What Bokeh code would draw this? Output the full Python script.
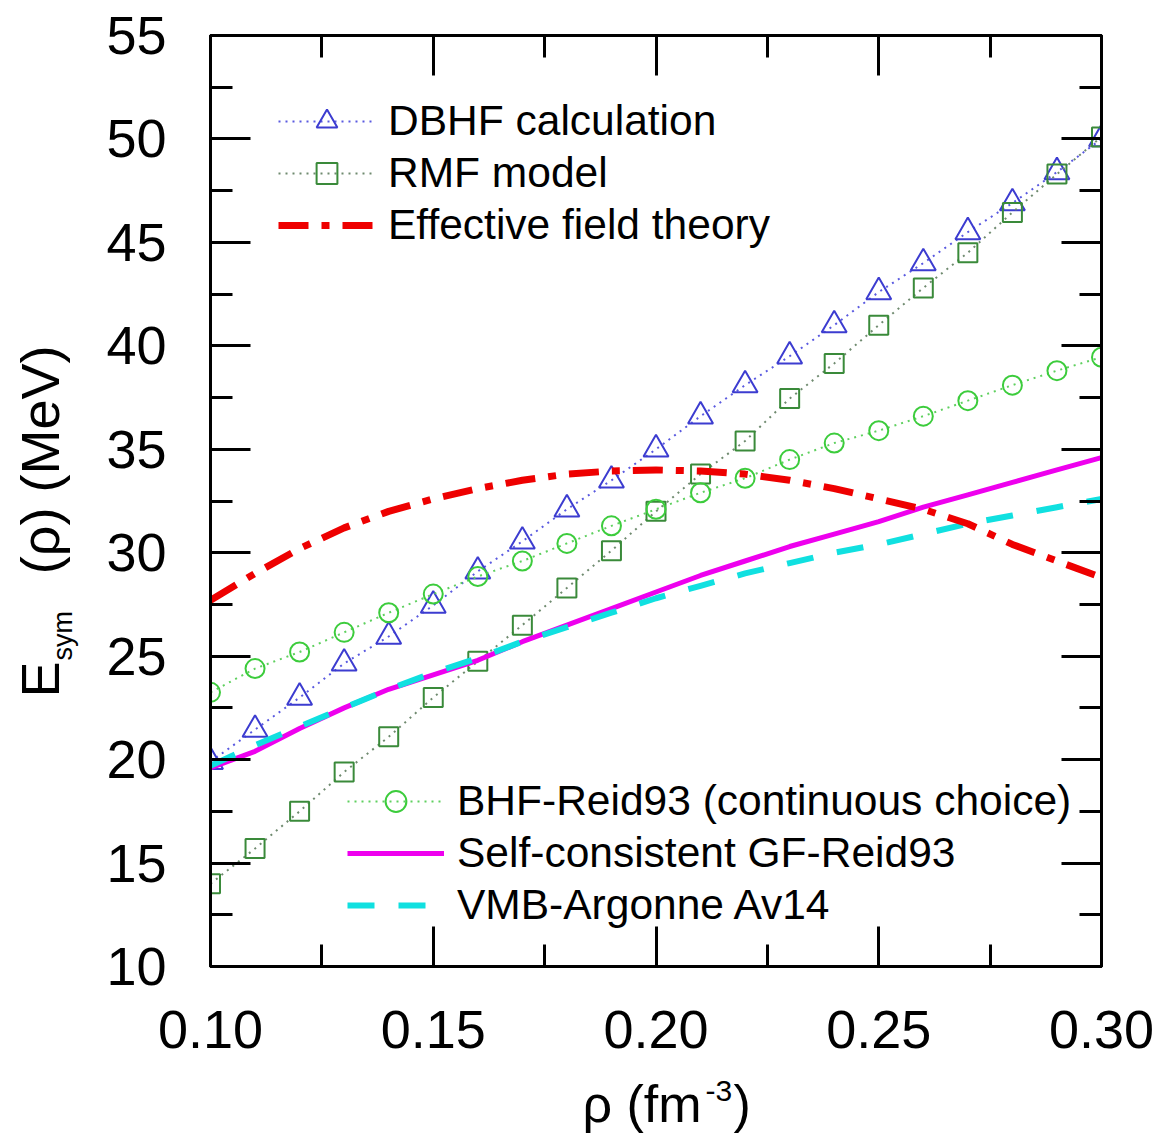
import math
from bokeh.plotting import figure
from bokeh.layouts import row, column
from bokeh.models import (Range1d, FixedTicker, LinearAxis, Legend,
                          LegendItem, NumeralTickFormatter)
from bokeh.core.properties import value
from bokeh.embed import file_html
from bokeh.resources import INLINE

# ---------------- data ----------------
rho = [0.10, 0.11, 0.12, 0.13, 0.14, 0.15, 0.16, 0.17, 0.18, 0.19, 0.20,
       0.21, 0.22, 0.23, 0.24, 0.25, 0.26, 0.27, 0.28, 0.29, 0.30]
dbhf = [19.9, 21.45, 23.0, 24.65, 25.95, 27.45, 29.1, 30.55, 32.1, 33.5, 35.0,
        36.6, 38.1, 39.5, 41.0, 42.6, 44.0, 45.5, 46.9, 48.4, 50.0]
rmf = [14.0, 15.7, 17.5, 19.4, 21.1, 23.0, 24.75, 26.5, 28.3, 30.1, 32.0,
       33.8, 35.4, 37.45, 39.15, 41.0, 42.8, 44.5, 46.45, 48.3, 50.1]
bhf = [23.25, 24.4, 25.2, 26.15, 27.1, 28.0, 28.85, 29.6, 30.45, 31.3, 32.1,
       32.9, 33.6, 34.5, 35.3, 35.9, 36.6, 37.35, 38.1, 38.8, 39.45]
eft = [27.7, 29.0, 30.2, 31.2, 32.0, 32.6, 33.1, 33.5, 33.8, 33.95, 34.0,
       33.95, 33.8, 33.5, 33.1, 32.6, 32.1, 31.4, 30.4, 29.6, 28.8]
gf = [19.6, 20.4, 21.5, 22.5, 23.4, 24.1, 24.8, 25.7, 26.5, 27.3, 28.1,
      28.9, 29.6, 30.3, 30.9, 31.5, 32.2, 32.8, 33.4, 34.0, 34.6]
vmb = [19.7, 20.7, 21.6, 22.5, 23.4, 24.2, 24.9, 25.7, 26.4, 27.1, 27.8,
       28.4, 29.0, 29.5, 30.0, 30.4, 30.9, 31.4, 31.8, 32.2, 32.6]

labels_top = ["DBHF calculation", "RMF model", "Effective field theory"]
labels_bot = ["BHF-Reid93 (continuous choice)", "Self-consistent GF-Reid93",
              "VMB-Argonne Av14"]

x_ticks = [0.10, 0.15, 0.20, 0.25, 0.30]
x_minor = [0.125, 0.175, 0.225, 0.275]
y_ticks = [10, 15, 20, 25, 30, 35, 40, 45, 50, 55]
y_minor = [12.5, 17.5, 22.5, 27.5, 32.5, 37.5, 42.5, 47.5, 52.5]

X0, X1 = 0.10, 0.30
Y0, Y1 = 10, 55
FONT = "Liberation Sans"
MID = 0.3465   # (ascent - descent) / 2 of the font, in em

# ---------------- layout (page pixels) ----------------
PAGE_W, PAGE_H = 1158, 1136
YLAB_W = 96          # strip holding the y-axis title
XLAB_H = 62          # strip holding the x-axis title
MW, MH = PAGE_W - YLAB_W, PAGE_H - XLAB_H
FRAME_L, FRAME_R = 210, 1101
L, R, T = FRAME_L - YLAB_W, PAGE_W - FRAME_R, 35
FH = 931
B = MH - T - FH

p = figure(width=MW, height=MH, output_backend="svg", toolbar_location=None,
           x_range=Range1d(X0, X1), y_range=Range1d(Y0, Y1),
           min_border_left=L, min_border_right=R, min_border_top=T,
           min_border_bottom=B, x_axis_type=None, y_axis_type=None)
p.grid.visible = False
p.background_fill_color = "white"
p.border_fill_color = "white"
p.outline_line_color = "black"
p.outline_line_width = 3


def make_axis(kind, labels):
    if kind == "x":
        t = FixedTicker(ticks=x_ticks, minor_ticks=x_minor)
    else:
        t = FixedTicker(ticks=y_ticks, minor_ticks=y_minor)
    ax = LinearAxis(ticker=t)
    ax.axis_line_color = "black"
    ax.axis_line_width = 3
    ax.major_tick_line_color = "black"
    ax.major_tick_line_width = 3
    ax.minor_tick_line_color = "black"
    ax.minor_tick_line_width = 3
    ax.major_tick_in = 40
    ax.major_tick_out = 0
    ax.minor_tick_in = 22
    ax.minor_tick_out = 0
    if labels:
        ax.major_label_text_font = FONT
        ax.major_label_text_font_size = "54px"
        ax.major_label_text_color = "black"
    else:
        ax.major_label_text_font_size = "1px"
        ax.major_label_text_alpha = 0
        ax.major_label_standoff = 0
    return ax


xb = make_axis("x", True)
xb.major_label_standoff = 44
xb.formatter = NumeralTickFormatter(format="0.00")
p.add_layout(xb, "below")
yl = make_axis("y", True)
yl.major_label_standoff = 44
p.add_layout(yl, "left")
p.add_layout(make_axis("x", False), "above")
p.add_layout(make_axis("y", False), "right")

# ---------------- series ----------------
r_dbhf_l = p.line(rho, dbhf, line_color="#5a5ae0", line_width=2, line_dash="2 5")
r_dbhf_m = p.scatter(rho, dbhf, marker="triangle", size=25, fill_color=None,
                     line_color="#3c3cd0", line_width=2)
r_rmf_l = p.line(rho, rmf, line_color="#6f8a6f", line_width=2, line_dash="2 5")
r_rmf_m = p.scatter(rho, rmf, marker="square", size=19, fill_color=None,
                    line_color="#3a8a3a", line_width=2)
r_bhf_l = p.line(rho, bhf, line_color="#5fd05f", line_width=2, line_dash="2 5")
r_bhf_m = p.scatter(rho, bhf, marker="circle", size=19, fill_color=None,
                    line_color="#3ccc3c", line_width=2)
r_gf = p.line(rho, gf, line_color="#ee00ee", line_width=5)
r_vmb = p.line(rho, vmb, line_color="#10e0e0", line_width=6, line_dash="27 24")
r_eft = p.line(rho, eft, line_color="#ee0000", line_width=7,
               line_dash="30 13 8 13")

# ---------------- legends ----------------
PAGE_FRAME_BOTTOM = T + FH     # 966


def make_legend(items, left_px, top_px):
    n = len(items)
    row_h = 52
    leg = Legend(items=items,
                 location=(left_px - FRAME_L,
                           PAGE_FRAME_BOTTOM - (top_px + n * row_h)),
                 orientation="vertical")
    leg.padding = 0
    leg.margin = 0
    leg.spacing = 0
    leg.glyph_width = 97
    leg.glyph_height = row_h
    leg.label_height = row_h
    leg.label_standoff = 13
    leg.label_text_font = FONT
    leg.label_text_font_size = "42.5px"
    leg.label_text_color = "black"
    leg.border_line_alpha = 0
    leg.background_fill_alpha = 0
    return leg


leg1 = make_legend([
    LegendItem(label=labels_top[0], renderers=[r_dbhf_l, r_dbhf_m]),
    LegendItem(label=labels_top[1], renderers=[r_rmf_l, r_rmf_m]),
    LegendItem(label=labels_top[2], renderers=[r_eft]),
], 278, 95)
leg2 = make_legend([
    LegendItem(label=labels_bot[0], renderers=[r_bhf_l, r_bhf_m]),
    LegendItem(label=labels_bot[1], renderers=[r_gf]),
    LegendItem(label=labels_bot[2], renderers=[r_vmb]),
], 347, 775)
p.add_layout(leg1)
p.add_layout(leg2)


# ---------------- axis titles in their own strips ----------------
def strip(w, h, xr, yr):
    f = figure(width=w, height=h, output_backend="svg", toolbar_location=None,
               x_range=xr, y_range=yr,
               min_border_left=0, min_border_right=0, min_border_top=0,
               min_border_bottom=0, x_axis_type=None, y_axis_type=None)
    f.grid.visible = False
    f.outline_line_color = None
    f.background_fill_color = "white"
    f.border_fill_color = "white"
    return f


# y strip: data coords == page px (y flipped)
ylab = strip(YLAB_W, PAGE_H, Range1d(0, YLAB_W), Range1d(PAGE_H, 0))
# x strip: its frame is aligned with the main frame (210..1101)
xlab = strip(MW, XLAB_H, Range1d(FRAME_L, FRAME_R), Range1d(PAGE_H, MH))


def lab(fig, text, px, py, size, align="left", angle=0.0):
    # (px, py): page position of the text baseline start
    if angle == 0.0:
        ax, ay = px, py - MID * size
    else:
        ax, ay = px - MID * size, py
    fig.text(x=[ax], y=[ay], text=[text],
             text_font=value(FONT), text_font_size=value(f"{size}px"),
             text_color="black", text_align=align,
             text_baseline="middle", angle=angle)


# x title: rho (fm^-3)
lab(xlab, "ρ (fm", 582, 1122, 52)
lab(xlab, "-3", 705, 1101, 30)
lab(xlab, ")", 733, 1122, 52)

# y title: E_sym(rho) (MeV)
lab(ylab, "E", 58, 697, 54, angle=math.pi / 2)
lab(ylab, "sym", 72, 660, 27, angle=math.pi / 2)
lab(ylab, "(ρ) (MeV)", 58, 345, 54, align="right", angle=math.pi / 2)

layout = row(ylab, column(p, xlab, spacing=0), spacing=0)
open("out.html", "w").write(file_html(layout, INLINE))
